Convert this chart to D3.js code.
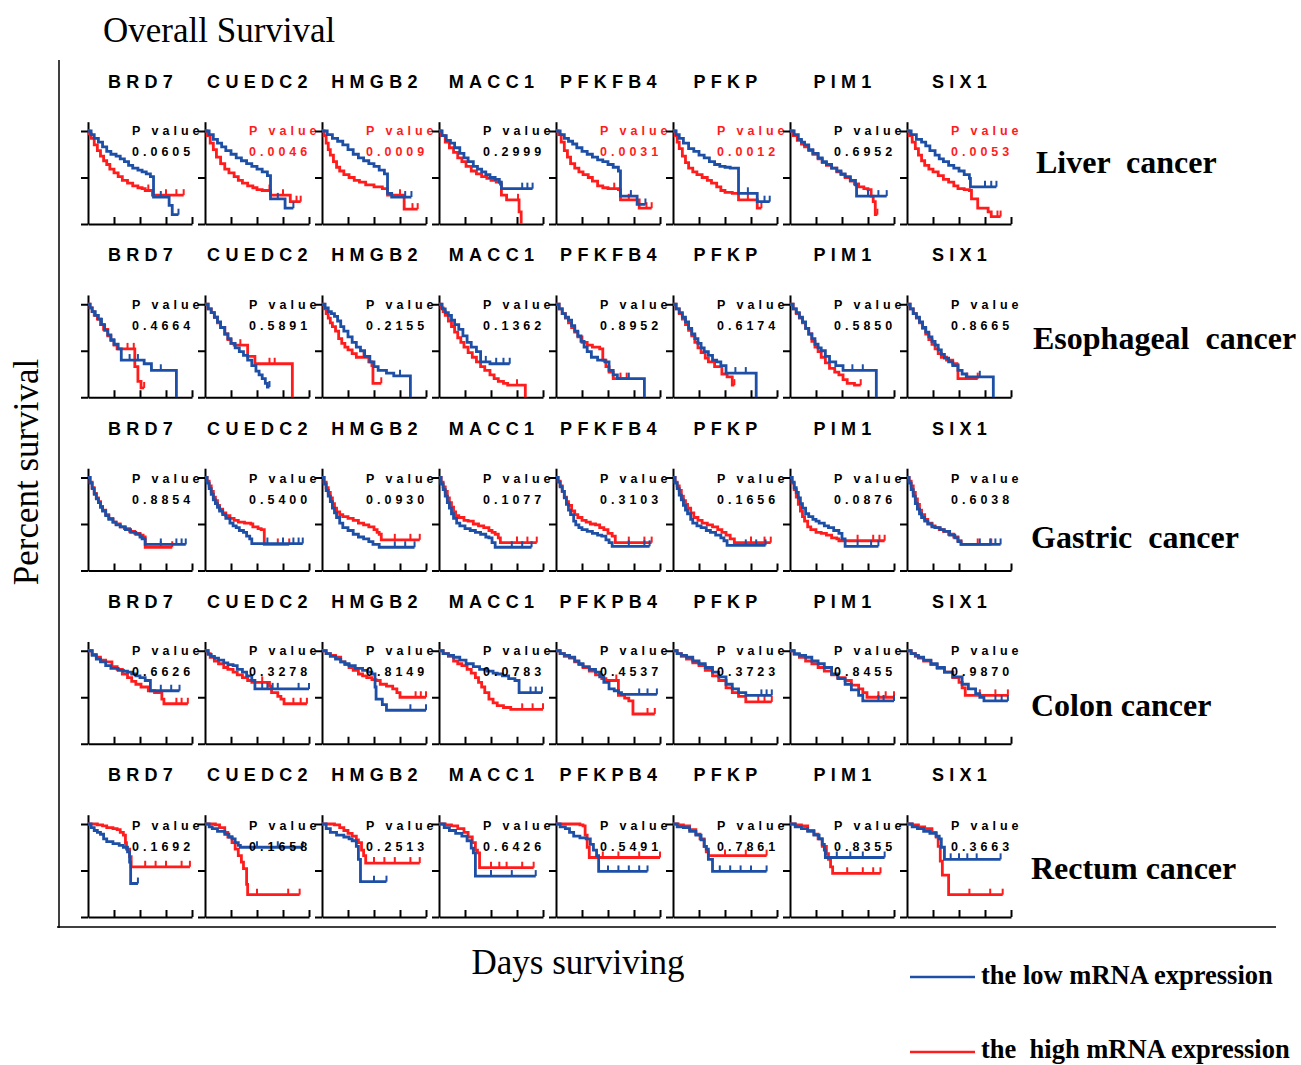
<!DOCTYPE html>
<html><head><meta charset="utf-8">
<script src="https://cdn.jsdelivr.net/npm/d3@7"></script>
<style>
html,body{margin:0;padding:0;background:#fff;}
svg text{white-space:pre;}
</style></head>
<body><svg id="chart" width="1301" height="1065"></svg>
<script>
// ---------------- DATA ----------------
const cancers = ["Liver  cancer", "Esophageal  cancer", "Gastric  cancer", "Colon cancer", "Rectum cancer"];
const genesA = ["BRD7", "CUEDC2", "HMGB2", "MACC1", "PFKFB4", "PFKP", "PIM1", "SIX1"];
const genesB = ["BRD7", "CUEDC2", "HMGB2", "MACC1", "PFKPB4", "PFKP", "PIM1", "SIX1"];
const rowGenes = [genesA, genesA, genesA, genesB, genesB];

const pLiver = [0.0605, 0.0046, 0.0009, 0.2999, 0.0031, 0.0012, 0.6952, 0.0053];
const pEsophageal = [0.4664, 0.5891, 0.2155, 0.1362, 0.8952, 0.6174, 0.5850, 0.8665];
const pGastric = [0.8854, 0.5400, 0.0930, 0.1077, 0.3103, 0.1656, 0.0876, 0.6038];
const pColon = [0.6626, 0.3278, 0.8149, 0.0783, 0.4537, 0.3723, 0.8455, 0.9870];
const pRectum = [0.1692, 0.1658, 0.2513, 0.6426, 0.5491, 0.7861, 0.8355, 0.3663];

const xTicks = [25, 50, 75, 100];
const yTicks = [0, 50, 100];

// Kaplan-Meier curves: [time (0-100 scale), percent survival]; a repeated level marks a censored case
const lowLiver = [
 [[0,100],[3,96],[6,92],[10,88],[14,83],[18,78],[22,75],[27,73],[31,70],[35,67],[39,63],[43,60],[48,58],[52,56],[56,54],[60,51],[63,29],[70,29],[78,20],[81,10],[87,10]],
 [[0,100],[4,96],[8,91],[12,87],[16,83],[20,79],[25,75],[30,71],[35,68],[40,65],[45,62],[50,59],[55,56],[60,52],[63,27],[70,27],[77,17],[85,17]],
 [[0,100],[5,96],[10,92],[15,89],[20,85],[25,80],[30,75],[35,71],[40,68],[45,65],[50,62],[55,58],[60,54],[63,33],[67,29],[80,29],[86,29]],
 [[0,100],[3,95],[7,90],[11,87],[15,82],[20,76],[24,71],[28,67],[33,62],[37,59],[41,56],[45,53],[49,50],[54,48],[58,45],[60,38],[80,38],[85,38],[90,38]],
 [[0,100],[4,96],[8,92],[12,89],[16,86],[20,82],[25,78],[30,75],[35,72],[40,69],[45,67],[50,64],[55,61],[60,57],[62,30],[72,30],[78,21],[86,21]],
 [[0,100],[3,96],[6,92],[10,87],[15,81],[20,78],[25,74],[30,71],[35,67],[40,64],[45,62],[50,61],[55,60],[63,33],[72,33],[81,24],[88,24],[93,24]],
 [[0,100],[4,96],[8,91],[11,88],[14,85],[18,80],[22,76],[27,71],[31,67],[35,64],[40,60],[45,57],[49,54],[53,51],[58,47],[63,42],[64,30],[75,30],[85,30],[93,30]],
 [[0,100],[4,96],[9,91],[14,88],[18,84],[22,79],[27,74],[31,70],[35,67],[40,63],[45,60],[50,57],[55,53],[60,49],[61,40],[75,40],[81,40],[86,40]]
];
const highLiver = [
 [[0,100],[1,97],[3,92],[6,85],[9,79],[12,73],[15,68],[18,64],[21,59],[25,55],[29,51],[33,47],[38,44],[43,41],[48,39],[52,38],[55,36],[58,36],[62,31],[75,31],[85,31],[92,31]],
 [[0,100],[2,95],[5,87],[8,80],[11,72],[15,65],[19,59],[23,55],[28,51],[32,47],[36,44],[41,41],[46,39],[50,37],[55,36],[62,36],[63,31],[75,31],[82,24],[88,24],[92,24]],
 [[0,100],[2,95],[4,87],[6,80],[8,74],[11,67],[14,61],[17,57],[21,53],[26,50],[31,47],[36,45],[42,42],[50,40],[58,38],[63,31],[75,31],[79,16],[87,16],[92,16]],
 [[0,100],[2,95],[6,88],[10,82],[14,77],[18,71],[22,67],[26,62],[31,57],[36,54],[41,51],[46,49],[50,47],[55,45],[59,43],[60,31],[65,26],[76,26],[77,13],[79,0]],
 [[0,100],[2,96],[5,88],[8,79],[11,72],[14,65],[18,60],[22,56],[26,53],[31,50],[35,46],[40,41],[45,39],[50,38],[56,38],[60,37],[62,26],[70,26],[80,17],[87,17],[92,17]],
 [[0,100],[2,95],[4,88],[6,81],[9,73],[12,66],[15,60],[19,56],[23,53],[28,50],[33,47],[37,44],[42,40],[46,36],[50,34],[57,33],[63,26],[72,26],[81,17],[85,17]],
 [[0,100],[3,95],[7,90],[11,86],[14,83],[18,79],[22,75],[27,70],[31,66],[35,63],[40,60],[45,56],[49,53],[53,50],[58,46],[62,43],[66,40],[71,38],[75,37],[78,30],[80,24],[82,10],[84,10]],
 [[0,100],[2,95],[5,88],[8,81],[11,74],[14,68],[17,63],[21,59],[25,56],[30,52],[35,48],[40,45],[45,41],[49,38],[55,37],[60,36],[62,27],[68,17],[78,13],[81,8],[87,8],[90,8]]
];

const lowEsophageal = [
 [[0,100],[2,96],[4,92],[7,88],[10,84],[13,78],[16,72],[19,67],[22,62],[25,57],[29,52],[32,40],[40,40],[48,40],[54,36],[61,29],[70,29],[85,0]],
 [[0,100],[3,95],[6,91],[9,86],[12,81],[15,75],[19,68],[22,63],[25,58],[29,53],[33,49],[37,45],[41,40],[45,34],[49,28],[52,24],[55,20],[58,15],[60,11],[62,11]],
 [[0,100],[3,96],[6,92],[9,90],[12,87],[15,82],[18,76],[21,71],[25,65],[29,59],[33,54],[37,50],[41,44],[46,38],[50,33],[54,29],[62,26],[69,23],[75,23],[85,0]],
 [[0,100],[3,95],[6,91],[9,88],[12,83],[15,78],[19,73],[23,66],[27,59],[31,54],[36,49],[40,38],[45,38],[49,36],[55,36],[62,36],[68,36]],
 [[0,100],[3,95],[6,90],[9,86],[12,83],[15,77],[18,71],[21,66],[24,60],[27,54],[30,49],[34,43],[40,40],[47,38],[51,29],[55,24],[59,20],[70,20],[85,0]],
 [[0,100],[3,95],[6,91],[9,86],[12,81],[15,74],[18,68],[21,63],[24,58],[27,53],[30,49],[34,45],[38,40],[42,38],[46,34],[51,26],[60,26],[70,26],[80,0]],
 [[0,100],[3,95],[6,91],[9,86],[12,81],[15,74],[18,68],[21,63],[24,57],[27,53],[30,50],[34,44],[38,38],[44,34],[51,29],[60,29],[70,29],[83,0]],
 [[0,100],[3,95],[6,90],[9,86],[12,81],[15,75],[18,70],[21,65],[24,60],[27,56],[30,51],[33,46],[36,42],[40,38],[44,34],[49,29],[53,25],[57,22],[70,22],[83,0]]
];
const highEsophageal = [
 [[0,100],[2,96],[4,92],[6,88],[9,84],[12,78],[15,73],[19,66],[22,61],[25,56],[28,52],[38,52],[44,52],[45,33],[48,17],[51,10],[54,10]],
 [[0,100],[3,95],[6,91],[9,86],[12,80],[15,75],[19,68],[22,62],[25,58],[28,56],[34,56],[41,44],[48,36],[62,36],[67,36],[84,0]],
 [[0,100],[2,95],[4,90],[6,85],[8,80],[10,76],[13,71],[16,63],[19,58],[22,54],[25,51],[29,47],[33,43],[40,43],[45,38],[48,34],[49,15],[57,15]],
 [[0,100],[2,96],[4,92],[6,88],[9,82],[12,76],[15,70],[18,64],[21,59],[24,54],[28,48],[32,43],[36,38],[40,33],[44,29],[49,24],[53,20],[57,17],[62,15],[66,13],[75,13],[83,0]],
 [[0,100],[3,95],[6,90],[9,85],[12,80],[15,75],[18,70],[21,65],[25,59],[30,56],[35,54],[42,52],[45,40],[48,33],[51,27],[55,20],[62,20],[68,20]],
 [[0,100],[3,95],[6,90],[9,84],[12,78],[15,72],[18,66],[21,59],[24,53],[27,48],[31,42],[34,38],[40,33],[47,25],[52,22],[57,13],[59,13]],
 [[0,100],[3,95],[6,90],[9,85],[12,80],[15,74],[18,68],[21,60],[24,54],[27,49],[30,43],[34,37],[38,31],[43,27],[47,24],[51,19],[55,15],[62,13],[68,13]],
 [[0,100],[3,95],[6,90],[9,85],[12,80],[15,74],[18,68],[21,62],[24,57],[27,52],[30,47],[33,43],[38,40],[44,36],[48,35],[49,20],[58,20],[68,20]]
];

const lowGastric = [
 [[0,100],[2,94],[4,88],[6,82],[8,77],[10,73],[12,68],[14,64],[17,59],[20,55],[24,52],[27,49],[31,47],[36,44],[41,41],[46,39],[50,36],[52,34],[55,28],[70,28],[85,28],[90,28],[94,28]],
 [[0,100],[2,94],[4,88],[6,82],[8,76],[10,72],[12,68],[14,64],[17,60],[20,56],[24,51],[27,48],[30,46],[33,43],[37,41],[40,37],[43,34],[45,29],[60,29],[75,29],[85,29],[90,29],[94,29]],
 [[0,100],[2,93],[4,86],[6,80],[8,74],[10,67],[12,62],[14,57],[17,51],[20,46],[25,43],[30,39],[35,36],[40,34],[45,31],[49,28],[55,25],[70,25],[80,25],[89,25]],
 [[0,100],[2,93],[4,87],[6,80],[8,73],[10,67],[12,61],[14,56],[17,51],[20,48],[25,45],[30,43],[35,41],[40,39],[45,36],[48,35],[51,30],[54,25],[70,25],[80,25],[89,25]],
 [[0,100],[2,95],[4,90],[6,85],[8,78],[10,71],[12,65],[14,60],[17,53],[19,49],[22,46],[25,44],[30,42],[35,40],[40,38],[44,37],[48,33],[51,30],[54,26],[70,26],[85,26],[90,26]],
 [[0,100],[2,94],[4,88],[6,81],[8,76],[10,70],[12,65],[14,61],[17,55],[19,51],[23,48],[27,46],[32,43],[36,41],[41,38],[46,35],[49,32],[52,27],[70,27],[80,27],[89,27]],
 [[0,100],[2,95],[4,89],[6,84],[8,78],[10,72],[12,67],[15,61],[18,58],[22,55],[25,53],[28,51],[33,48],[37,46],[42,43],[47,40],[50,34],[53,26],[65,26],[78,26],[85,26]],
 [[0,100],[2,94],[4,87],[6,80],[8,72],[10,66],[12,61],[14,57],[17,53],[20,50],[24,47],[27,46],[32,44],[36,42],[41,38],[46,35],[49,31],[52,28],[70,28],[80,28],[85,28],[90,28]]
];
const highGastric = [
 [[0,100],[2,95],[4,89],[6,83],[8,78],[10,74],[12,69],[14,65],[17,60],[20,56],[24,52],[27,50],[31,47],[35,45],[40,42],[45,40],[50,38],[53,36],[55,25],[70,25],[81,25]],
 [[0,100],[2,96],[4,91],[6,85],[8,79],[10,75],[12,70],[14,66],[17,62],[20,59],[24,56],[28,54],[32,52],[38,51],[44,50],[46,47],[51,45],[54,44],[57,28],[70,28],[81,28]],
 [[0,100],[2,95],[4,89],[6,84],[8,78],[10,72],[12,67],[14,63],[17,60],[20,58],[25,56],[30,54],[35,51],[40,49],[45,47],[50,44],[53,41],[55,39],[57,33],[70,33],[85,33],[94,33]],
 [[0,100],[2,95],[4,90],[6,85],[8,78],[10,73],[12,68],[14,63],[16,59],[19,57],[24,54],[28,53],[33,50],[38,48],[43,46],[48,43],[51,41],[54,39],[57,35],[59,30],[75,30],[85,30],[94,30]],
 [[0,100],[2,96],[4,91],[6,85],[8,79],[10,74],[12,70],[15,64],[18,60],[21,57],[25,54],[29,52],[33,50],[38,49],[42,46],[46,44],[50,40],[54,37],[57,30],[70,30],[85,30],[92,30]],
 [[0,100],[2,95],[4,91],[6,86],[8,80],[10,75],[12,71],[14,67],[17,62],[20,57],[24,54],[28,51],[33,49],[38,47],[43,44],[47,41],[51,38],[55,34],[59,30],[75,30],[88,30],[94,30]],
 [[0,100],[2,94],[4,87],[6,79],[8,71],[10,64],[12,58],[14,53],[17,47],[20,44],[25,41],[30,40],[35,38],[40,35],[45,34],[47,32],[65,32],[80,32],[86,32],[91,32]],
 [[0,100],[2,96],[4,91],[6,84],[8,77],[10,71],[12,65],[14,60],[17,55],[20,51],[24,48],[27,46],[31,44],[35,42],[40,39],[45,36],[49,32],[52,28],[68,28],[81,28]]
];

const lowColon = [
 [[0,100],[4,95],[8,91],[12,88],[17,84],[22,81],[29,79],[34,78],[38,77],[42,75],[46,73],[50,71],[55,68],[60,57],[70,57],[80,57],[88,57]],
 [[0,100],[3,96],[6,94],[9,92],[13,90],[18,87],[22,85],[27,84],[31,80],[36,77],[40,73],[45,68],[48,59],[55,59],[60,59],[65,59],[70,59],[90,59],[100,59]],
 [[0,100],[4,97],[8,94],[13,91],[18,88],[22,86],[26,84],[32,81],[39,79],[44,77],[48,75],[51,61],[52,48],[58,42],[62,36],[85,36],[100,36]],
 [[0,100],[4,97],[9,95],[14,93],[20,90],[26,86],[33,83],[39,80],[46,78],[52,76],[56,75],[61,73],[67,70],[73,68],[77,55],[88,55],[93,55],[99,55]],
 [[0,100],[4,97],[8,95],[13,93],[18,89],[22,86],[26,83],[32,80],[38,77],[42,72],[46,66],[51,59],[56,57],[60,55],[63,53],[80,53],[88,53],[97,53]],
 [[0,100],[4,97],[8,95],[13,93],[19,89],[25,86],[31,82],[38,77],[44,72],[51,64],[57,59],[63,55],[70,52],[85,52],[90,52],[95,52]],
 [[0,100],[4,97],[9,95],[15,93],[21,89],[27,86],[33,82],[40,75],[46,70],[53,64],[59,58],[66,52],[70,46],[85,46],[90,46],[100,46]],
 [[0,100],[4,97],[8,95],[11,93],[16,90],[23,86],[29,82],[36,77],[44,72],[53,64],[59,59],[66,54],[70,50],[74,46],[85,46],[91,46],[97,46]]
];
const highColon = [
 [[0,100],[4,96],[8,93],[12,90],[17,88],[23,83],[28,80],[33,75],[38,71],[42,67],[46,64],[51,61],[58,57],[64,55],[71,48],[73,43],[85,43],[90,43],[96,43]],
 [[0,100],[3,97],[5,93],[9,89],[13,86],[18,82],[22,80],[27,77],[31,74],[36,71],[41,68],[45,66],[55,66],[62,62],[64,55],[70,51],[73,48],[76,43],[85,43],[92,43],[98,43]],
 [[0,100],[4,97],[8,95],[13,93],[18,88],[22,85],[26,82],[30,79],[35,75],[39,73],[43,71],[48,69],[52,68],[56,64],[62,62],[68,59],[72,55],[75,50],[90,50],[95,50],[100,50]],
 [[0,100],[4,97],[9,94],[14,89],[18,86],[22,84],[27,80],[31,76],[35,71],[38,66],[41,61],[44,55],[48,48],[52,44],[56,41],[62,39],[69,37],[80,37],[90,37],[100,37]],
 [[0,100],[4,97],[8,94],[13,92],[18,88],[22,85],[26,82],[32,78],[38,74],[44,70],[48,68],[58,68],[60,52],[66,49],[70,46],[74,32],[88,32],[95,32]],
 [[0,100],[4,97],[8,94],[13,91],[19,87],[25,84],[31,79],[38,73],[44,68],[51,60],[57,55],[63,51],[70,45],[82,45],[88,45],[95,45]],
 [[0,100],[4,96],[9,93],[15,89],[21,86],[27,82],[33,78],[40,74],[46,71],[53,68],[59,63],[66,59],[70,55],[74,50],[85,50],[92,50],[100,50]],
 [[0,100],[4,97],[8,94],[11,92],[16,89],[23,85],[29,81],[36,77],[44,71],[50,66],[53,60],[56,52],[70,52],[85,52],[97,52]]
];

const lowRectum = [
 [[0,100],[3,96],[6,93],[9,91],[12,89],[15,84],[18,81],[24,79],[30,77],[34,75],[38,70],[40,59],[41,36],[48,36]],
 [[0,100],[4,97],[7,95],[12,92],[19,89],[23,86],[26,84],[29,80],[32,77],[34,75],[50,75],[70,75],[94,75]],
 [[0,100],[4,95],[8,91],[14,88],[21,86],[26,84],[29,82],[33,76],[35,62],[37,38],[50,38],[62,38]],
 [[0,100],[5,96],[10,93],[16,90],[22,87],[27,82],[31,74],[33,69],[35,44],[50,44],[70,44],[93,44]],
 [[0,100],[4,97],[9,95],[13,91],[17,87],[23,85],[29,84],[33,78],[36,72],[39,66],[41,49],[50,49],[60,49],[70,49],[80,49],[88,49]],
 [[0,100],[4,97],[10,96],[16,92],[22,88],[27,83],[30,76],[32,73],[34,62],[38,49],[45,49],[55,49],[65,49],[75,49],[90,49]],
 [[0,100],[5,97],[11,95],[17,92],[23,88],[28,84],[31,78],[33,72],[34,64],[45,64],[58,64],[70,64],[91,64]],
 [[0,100],[5,97],[10,95],[16,92],[22,90],[28,87],[31,84],[33,75],[36,62],[42,62],[50,62],[58,62],[67,62],[90,62]]
];
const highRectum = [
 [[0,100],[9,99],[14,98],[18,96],[24,95],[28,94],[31,91],[34,88],[36,80],[37,73],[40,65],[41.5,54],[55,54],[65,54],[75,54],[90,54],[98,54]],
 [[0,100],[10,99],[14,96],[19,91],[22,86],[26,80],[29,73],[32,66],[35,59],[37,52],[40,35],[41,24],[50,24],[80,24],[91,24]],
 [[0,100],[12,99],[17,96],[21,93],[25,90],[29,87],[33,83],[35,80],[38,72],[40,66],[42,58],[50,58],[60,58],[70,58],[85,58],[94,58]],
 [[0,100],[6,99],[12,98],[18,95],[24,91],[28,86],[32,80],[35,72],[37,69],[39,53],[50,53],[58,53],[65,53],[80,53],[91,53]],
 [[0,100],[23,99],[26,98],[28,88],[30,75],[32,64],[45,64],[60,64],[80,64],[100,64]],
 [[0,100],[5,99],[10,98],[16,94],[22,89],[26,84],[30,76],[32,70],[34,66],[50,66],[70,66],[90,66]],
 [[0,100],[5,99],[11,98],[17,93],[23,89],[27,84],[31,76],[35,68],[37,62],[39,54],[41,47],[55,47],[70,47],[80,47],[87,47]],
 [[0,100],[5,99],[11,97],[17,95],[24,91],[28,86],[30,76],[32,60],[34,45],[40,24],[60,24],[80,24],[92,24]]
];

const rowsLow = [lowLiver, lowEsophageal, lowGastric, lowColon, lowRectum];
const rowsHigh = [highLiver, highEsophageal, highGastric, highColon, highRectum];
const rowsP = [pLiver, pEsophageal, pGastric, pColon, pRectum];
const legendLabels = ["the low mRNA expression", "the  high mRNA expression"];

// ---------------- LAYOUT ----------------
const BLUE = "#1d4fa6", RED = "#ff1c1c";
const svg = d3.select("#chart");
const colX = d3.scaleLinear().domain([0, 7]).range([88, 907]);
const rowBottom = d3.scaleLinear().domain([0, 4]).range([224, 917]);
const panelW = 104, panelH = 93;
const cancerDy = [-51, -48, -23, -28, -38];
const cancerX = [1036, 1033, 1031, 1031, 1031];
const pValueDy = [4, 5, 5, 4, 6];

svg.append("text").attr("x", 103).attr("y", 42)
  .attr("font-family", "'Liberation Serif','Times New Roman',serif").attr("font-size", 35)
  .text("Overall Survival");

// outer axes
svg.append("line").attr("x1", 59).attr("x2", 59).attr("y1", 60).attr("y2", 928).attr("stroke", "#000").attr("stroke-width", 1.5);
svg.append("line").attr("x1", 57).attr("x2", 1276).attr("y1", 927).attr("y2", 927).attr("stroke", "#000").attr("stroke-width", 1.5);

svg.append("text").attr("transform", "translate(38,472) rotate(-90)").attr("text-anchor", "middle")
  .attr("font-family", "'Liberation Serif','Times New Roman',serif").attr("font-size", 35)
  .text("Percent survival");
svg.append("text").attr("x", 578).attr("y", 974).attr("text-anchor", "middle")
  .attr("font-family", "'Liberation Serif','Times New Roman',serif").attr("font-size", 35)
  .text("Days surviving");

// legend
[[BLUE, 977, 984], [RED, 1052, 1058]].forEach((d, i) => {
  svg.append("line").attr("x1", 910).attr("x2", 975).attr("y1", d[1]).attr("y2", d[1]).attr("stroke", d[0]).attr("stroke-width", 2.5);
  svg.append("text").attr("x", 981).attr("y", d[2])
    .attr("font-family", "'Liberation Serif','Times New Roman',serif").attr("font-weight", "bold").attr("font-size", 26.5)
    .text(legendLabels[i]);
});

function drawPanel(r, c) {
  const x0 = colX(c), bottom = rowBottom(r);
  const xs = d3.scaleLinear().domain([0, 100]).range([x0, x0 + panelW]);
  const ys = d3.scaleLinear().domain([0, 100]).range([bottom, bottom - panelH]);
  const ysAxis = d3.scaleLinear().domain([0, 110]).range([bottom, bottom - panelH * 1.1]);
  const g = svg.append("g");

  // title
  g.append("text").attr("x", x0 + 55).attr("y", bottom - 136).attr("text-anchor", "middle")
    .attr("font-family", "'Liberation Sans',Arial,sans-serif").attr("font-weight", "bold").attr("font-size", 18)
    .attr("letter-spacing", "5.3px").text(rowGenes[r][c]);

  // axes
  const ya = g.append("g").attr("transform", `translate(${x0},0)`)
    .call(d3.axisLeft(ysAxis).tickValues(yTicks).tickSize(7).tickSizeOuter(0).tickFormat(""));
  const xa = g.append("g").attr("transform", `translate(0,${bottom})`)
    .call(d3.axisBottom(xs).tickValues(xTicks).tickSize(-7).tickSizeOuter(0).tickFormat(""));
  [ya, xa].forEach(a => { a.selectAll("path,line").attr("stroke", "#000").attr("stroke-width", 2); });

  const line = d3.line().x(d => xs(d[0])).y(d => ys(d[1])).curve(d3.curveStepAfter);
  [[rowsHigh[r][c], RED], [rowsLow[r][c], BLUE]].forEach(([pts, col]) => {
    g.append("path").attr("d", line(pts)).attr("fill", "none").attr("stroke", col).attr("stroke-width", 2.8);
    pts.forEach((p, i) => {
      if (i > 0 && p[1] === pts[i - 1][1] && p[1] > 0) {
        g.append("line").attr("x1", xs(p[0])).attr("x2", xs(p[0]))
          .attr("y1", ys(p[1])).attr("y2", ys(p[1]) - 6).attr("stroke", col).attr("stroke-width", 2);
      }
    });
  });

  // p-value
  const p = rowsP[r][c];
  const pc = p < 0.05 ? RED : "#000";
  const py = bottom - panelH + pValueDy[r];
  g.append("text").attr("x", x0 + 44).attr("y", py)
    .attr("font-family", "'Liberation Sans',Arial,sans-serif").attr("font-weight", "bold").attr("font-size", 12.5)
    .attr("letter-spacing", "4px").attr("fill", pc).text("P value");
  g.append("text").attr("x", x0 + 44).attr("y", py + 21)
    .attr("font-family", "'Liberation Sans',Arial,sans-serif").attr("font-weight", "bold").attr("font-size", 12.5)
    .attr("letter-spacing", "4px").attr("fill", pc).text(p.toFixed(4));
}

for (let r = 0; r < 5; r++) {
  for (let c = 0; c < 8; c++) drawPanel(r, c);
  svg.append("text").attr("x", cancerX[r]).attr("y", rowBottom(r) + cancerDy[r])
    .attr("font-family", "'Liberation Serif','Times New Roman',serif").attr("font-weight", "bold").attr("font-size", 32)
    .text(cancers[r]);
}
</script>
</body></html>
